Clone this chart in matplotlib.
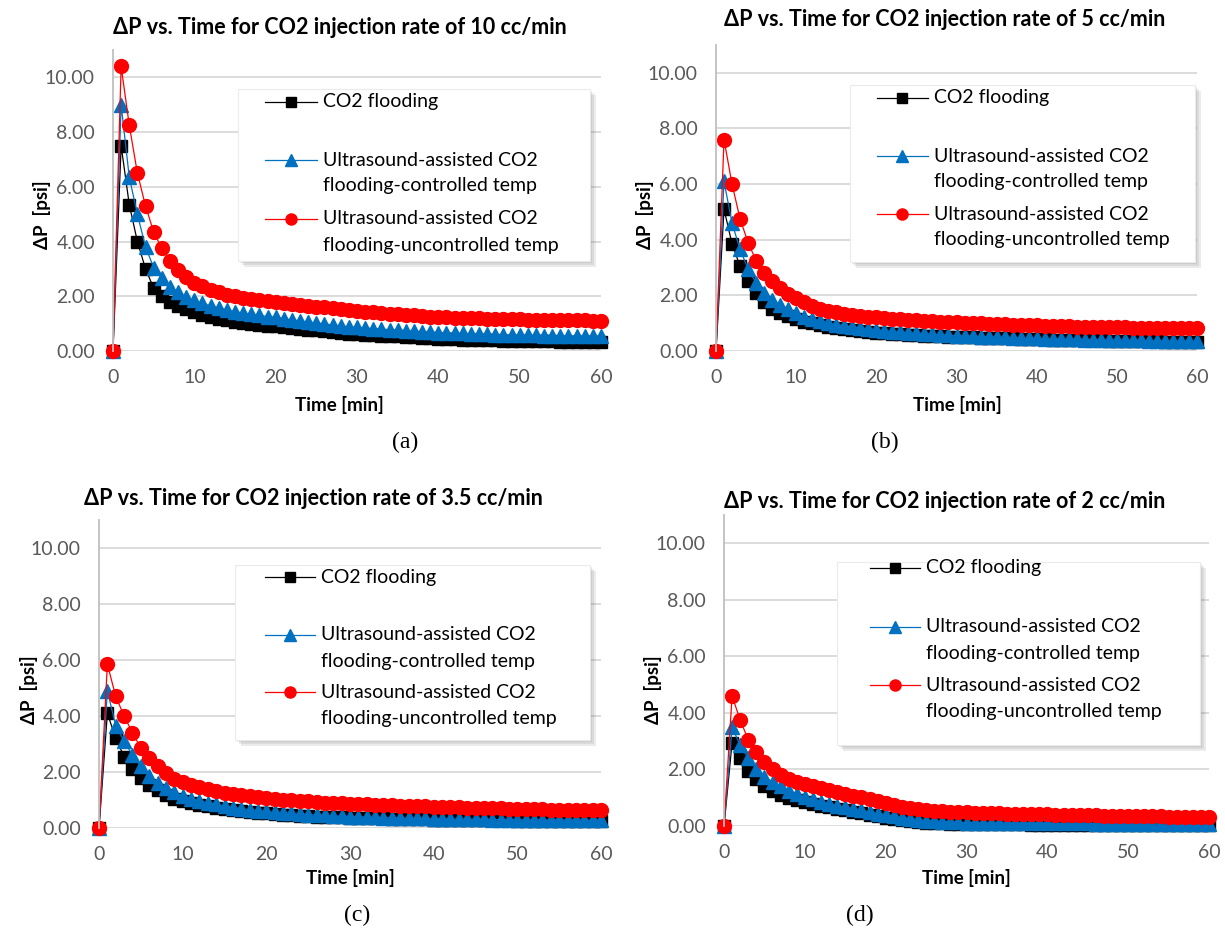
import matplotlib
matplotlib.use("Agg")
import matplotlib.pyplot as plt
from matplotlib.lines import Line2D
from matplotlib.patches import Rectangle

plt.rcParams['font.family'] = ['Lato', 'DejaVu Sans']

W, H = 1225, 930

time_min = list(range(61))

# panel (a) 10 cc/min
a_co2 = [0, 7.50, 5.35, 4.00, 3.00, 2.30, 2.00, 1.80, 1.65, 1.52, 1.42,
         1.33, 1.25, 1.18, 1.12, 1.07, 1.03, 0.99, 0.96, 0.93, 0.90,
         0.87, 0.84, 0.81, 0.78, 0.75, 0.72, 0.69, 0.66, 0.63, 0.61,
         0.59, 0.57, 0.56, 0.54, 0.53, 0.51, 0.50, 0.48, 0.47, 0.45,
         0.44, 0.43, 0.42, 0.41, 0.40, 0.40, 0.39, 0.38, 0.38, 0.37,
         0.36, 0.36, 0.35, 0.35, 0.34, 0.34, 0.33, 0.33, 0.32, 0.32]
a_ctrl = [0, 9.00, 6.35, 5.00, 3.80, 3.05, 2.65, 2.35, 2.15, 1.98, 1.85,
          1.74, 1.65, 1.57, 1.50, 1.44, 1.39, 1.34, 1.30, 1.26, 1.23,
          1.18, 1.14, 1.10, 1.06, 1.02, 0.99, 0.95, 0.92, 0.89, 0.86,
          0.84, 0.82, 0.80, 0.78, 0.76, 0.74, 0.72, 0.70, 0.69, 0.67,
          0.66, 0.65, 0.64, 0.63, 0.62, 0.61, 0.60, 0.59, 0.58, 0.58,
          0.57, 0.57, 0.56, 0.56, 0.56, 0.55, 0.55, 0.55, 0.54, 0.54]
a_unctrl = [0, 10.40, 8.25, 6.50, 5.30, 4.35, 3.75, 3.30, 2.95, 2.70, 2.50,
            2.36, 2.24, 2.14, 2.06, 2.00, 1.95, 1.90, 1.86, 1.82, 1.78,
            1.74, 1.71, 1.68, 1.65, 1.62, 1.59, 1.56, 1.53, 1.50, 1.47,
            1.44, 1.42, 1.39, 1.37, 1.35, 1.32, 1.30, 1.28, 1.26, 1.24,
            1.23, 1.22, 1.21, 1.20, 1.19, 1.18, 1.17, 1.17, 1.16, 1.16,
            1.15, 1.15, 1.14, 1.14, 1.13, 1.13, 1.12, 1.12, 1.11, 1.11]

# panel (b) 5 cc/min
b_co2 = [0, 5.10, 3.85, 3.05, 2.50, 2.10, 1.75, 1.52, 1.38, 1.25, 1.15,
         1.06, 0.99, 0.93, 0.88, 0.83, 0.79, 0.75, 0.72, 0.69, 0.66,
         0.64, 0.62, 0.60, 0.58, 0.57, 0.55, 0.54, 0.53, 0.52, 0.51,
         0.50, 0.49, 0.48, 0.47, 0.46, 0.45, 0.45, 0.44, 0.43, 0.42,
         0.42, 0.41, 0.40, 0.40, 0.39, 0.39, 0.38, 0.38, 0.37, 0.37,
         0.36, 0.36, 0.35, 0.35, 0.35, 0.34, 0.34, 0.34, 0.33, 0.33]
b_ctrl = [0, 6.10, 4.60, 3.65, 2.95, 2.45, 2.10, 1.85, 1.65, 1.50, 1.35,
          1.24, 1.15, 1.07, 1.00, 0.95, 0.90, 0.86, 0.82, 0.79, 0.76,
          0.73, 0.70, 0.68, 0.66, 0.64, 0.62, 0.60, 0.58, 0.57, 0.55,
          0.54, 0.53, 0.52, 0.51, 0.50, 0.49, 0.48, 0.47, 0.46, 0.45,
          0.44, 0.44, 0.43, 0.42, 0.42, 0.41, 0.41, 0.40, 0.40, 0.39,
          0.39, 0.38, 0.38, 0.37, 0.37, 0.37, 0.36, 0.36, 0.36, 0.35]
b_unctrl = [0, 7.60, 6.00, 4.75, 3.90, 3.25, 2.80, 2.50, 2.25, 2.05, 1.90,
            1.75, 1.62, 1.52, 1.45, 1.39, 1.34, 1.30, 1.27, 1.24, 1.21,
            1.18, 1.16, 1.14, 1.12, 1.10, 1.08, 1.07, 1.05, 1.04, 1.03,
            1.01, 1.00, 0.99, 0.98, 0.97, 0.96, 0.95, 0.94, 0.93, 0.92,
            0.91, 0.90, 0.89, 0.89, 0.88, 0.87, 0.87, 0.86, 0.86, 0.85,
            0.85, 0.84, 0.84, 0.83, 0.83, 0.82, 0.82, 0.82, 0.81, 0.81]

# panel (c) 3.5 cc/min
c_co2 = [0, 4.10, 3.20, 2.55, 2.10, 1.80, 1.55, 1.35, 1.18, 1.05, 0.97,
         0.90, 0.83, 0.77, 0.72, 0.68, 0.64, 0.61, 0.58, 0.55, 0.52,
         0.50, 0.48, 0.46, 0.44, 0.43, 0.41, 0.40, 0.39, 0.38, 0.37,
         0.36, 0.35, 0.34, 0.34, 0.33, 0.32, 0.32, 0.31, 0.31, 0.30,
         0.30, 0.29, 0.29, 0.28, 0.28, 0.28, 0.27, 0.27, 0.27, 0.26,
         0.26, 0.26, 0.25, 0.25, 0.25, 0.25, 0.24, 0.24, 0.24, 0.24]
c_ctrl = [0, 4.90, 3.65, 3.10, 2.60, 2.20, 1.85, 1.60, 1.42, 1.28, 1.15,
          1.05, 0.97, 0.90, 0.84, 0.78, 0.73, 0.69, 0.65, 0.62, 0.59,
          0.56, 0.54, 0.52, 0.50, 0.48, 0.46, 0.45, 0.43, 0.42, 0.41,
          0.40, 0.39, 0.38, 0.37, 0.36, 0.36, 0.35, 0.34, 0.34, 0.33,
          0.33, 0.32, 0.32, 0.31, 0.31, 0.31, 0.30, 0.30, 0.30, 0.29,
          0.29, 0.29, 0.28, 0.28, 0.28, 0.28, 0.27, 0.27, 0.27, 0.27]
c_unctrl = [0, 5.85, 4.70, 4.00, 3.40, 2.85, 2.50, 2.20, 1.95, 1.75, 1.65,
            1.55, 1.47, 1.39, 1.32, 1.26, 1.21, 1.17, 1.13, 1.10, 1.07,
            1.04, 1.01, 0.99, 0.97, 0.95, 0.93, 0.91, 0.89, 0.88, 0.86,
            0.85, 0.84, 0.83, 0.82, 0.81, 0.80, 0.79, 0.78, 0.77, 0.76,
            0.75, 0.74, 0.74, 0.73, 0.72, 0.71, 0.71, 0.70, 0.69, 0.69,
            0.68, 0.67, 0.67, 0.66, 0.66, 0.65, 0.64, 0.64, 0.63, 0.63]

# panel (d) 2 cc/min
d_co2 = [0, 2.95, 2.40, 1.95, 1.65, 1.40, 1.25, 1.10, 1.00, 0.92, 0.85,
         0.78, 0.72, 0.66, 0.60, 0.55, 0.50, 0.45, 0.40, 0.35, 0.30,
         0.26, 0.22, 0.18, 0.15, 0.12, 0.10, 0.09, 0.08, 0.07, 0.07,
         0.07, 0.06, 0.06, 0.06, 0.06, 0.06, 0.06, 0.05, 0.05, 0.05,
         0.05, 0.05, 0.05, 0.05, 0.05, 0.05, 0.05, 0.05, 0.05, 0.05,
         0.05, 0.05, 0.05, 0.05, 0.05, 0.05, 0.05, 0.05, 0.05, 0.05]
d_ctrl = [0, 3.50, 2.85, 2.40, 2.00, 1.75, 1.55, 1.40, 1.25, 1.12, 1.02,
          0.94, 0.86, 0.79, 0.72, 0.66, 0.60, 0.55, 0.49, 0.44, 0.39,
          0.34, 0.30, 0.26, 0.22, 0.19, 0.17, 0.15, 0.14, 0.13, 0.12,
          0.12, 0.11, 0.11, 0.11, 0.10, 0.10, 0.10, 0.10, 0.10, 0.09,
          0.09, 0.09, 0.09, 0.09, 0.09, 0.08, 0.08, 0.08, 0.08, 0.08,
          0.08, 0.08, 0.08, 0.08, 0.08, 0.08, 0.08, 0.08, 0.08, 0.08]
d_unctrl = [0, 4.60, 3.75, 3.05, 2.60, 2.25, 2.00, 1.82, 1.68, 1.57, 1.48,
            1.40, 1.33, 1.26, 1.20, 1.14, 1.07, 1.01, 0.94, 0.87, 0.80,
            0.74, 0.68, 0.63, 0.59, 0.56, 0.54, 0.52, 0.50, 0.49, 0.48,
            0.47, 0.46, 0.46, 0.45, 0.44, 0.44, 0.43, 0.42, 0.42, 0.41,
            0.40, 0.40, 0.39, 0.39, 0.38, 0.38, 0.37, 0.37, 0.36, 0.36,
            0.35, 0.35, 0.34, 0.34, 0.33, 0.33, 0.32, 0.32, 0.31, 0.31]

rates = ["10", "5", "3.5", "2"]
captions = ["(a)", "(b)", "(c)", "(d)"]
series_names = ["CO2 flooding",
                "Ultrasound-assisted CO2\nflooding-controlled temp",
                "Ultrasound-assisted CO2\nflooding-uncontrolled temp"]
colors = ["#000000", "#0070C0", "#FF0000"]
markers = ["s", "^", "o"]
msizes = [9, 10, 10]
leg_msizes = [7, 8, 8]

panel_data = [(a_co2, a_ctrl, a_unctrl), (b_co2, b_ctrl, b_unctrl),
              (c_co2, c_ctrl, c_unctrl), (d_co2, d_ctrl, d_unctrl)]

# layout in pixels: axes (left, right, top, bottom), title/xlabel/ylabel/caption spots, legend box
axes_px = [(113, 601, 50, 351), (716, 1197, 45, 351),
           (99, 601, 520, 828), (724, 1209, 515, 826)]
title_px = [(340, 28), (945, 20), (313, 498), (945, 501)]
xlab_px = [(339, 405), (957, 405), (350, 878), (966, 878)]
ylab_px = [(42, 215), (645, 215), (29, 690), (653, 690)]
cap_px = [(405, 442), (885, 442), (357, 915), (860, 915)]
# legend: box x0, x1, y0, y1, handle x0, x1, row y of each entry
leg_px = [(238, 590, 89, 261, 265, 317, (102, 160, 219)),
          (850, 1195, 85, 262, 877, 928, (98, 156, 214)),
          (235, 590, 565, 740, 265, 315, (577, 635, 692)),
          (837, 1200, 562, 745, 870, 920, (568, 627, 685))]
line_gap = 26


def fx(x):
    return x / W


def fy(y):
    return 1 - y / H


fig = plt.figure(figsize=(W / 100, H / 100), dpi=100)

for i in range(4):
    l, r, t, b = axes_px[i]
    ax = fig.add_axes([fx(l), fy(b), (r - l) / W, (b - t) / H])
    for vals, c, m, ms in zip(panel_data[i], colors, markers, msizes):
        ax.plot(time_min, vals, color=c, marker=m, markersize=ms, lw=0.9,
                clip_on=False)
    ax.set_xlim(0, 60)
    ax.set_ylim(0, 11)
    ax.set_xticks(range(0, 61, 10))
    ax.set_yticks(range(0, 11, 2))
    ax.set_yticklabels(["%.2f" % v for v in range(0, 11, 2)])
    ax.grid(axis="y", color="#D9D9D9", lw=1.3)
    ax.set_axisbelow(True)
    for s in ["top", "right", "bottom"]:
        ax.spines[s].set_visible(False)
    ax.spines["left"].set_color("#BFBFBF")
    ax.spines["left"].set_linewidth(1.3)
    ax.tick_params(length=0, labelsize=14, labelcolor="#595959")
    ax.tick_params(axis="y", pad=13)
    ax.tick_params(axis="x", pad=13)

    fig.text(fx(title_px[i][0]), fy(title_px[i][1]),
             "ΔP vs. Time for CO2 injection rate of %s cc/min" % rates[i],
             ha="center", va="center", fontsize=15.5, fontweight="bold")
    fig.text(fx(xlab_px[i][0]), fy(xlab_px[i][1]), "Time [min]",
             ha="center", va="center", fontsize=13.5, fontweight="bold")
    fig.text(fx(ylab_px[i][0]), fy(ylab_px[i][1]), "ΔP  [psi]",
             ha="center", va="center", fontsize=13.5, fontweight="bold",
             rotation=90)
    fig.text(fx(cap_px[i][0]), fy(cap_px[i][1]), captions[i],
             ha="center", va="center", fontsize=17, family="Liberation Serif")

    # legend drawn by hand, Excel style (marker on first line of each entry)
    x0, x1, y0, y1, hx0, hx1, rows = leg_px[i]
    for k in range(3):
        off = 2 + 2 * k
        fig.add_artist(Rectangle((fx(x0 + off), fy(y1 + off)),
                                 (x1 - x0) / W, (y1 - y0) / H,
                                 transform=fig.transFigure,
                                 facecolor="#606060", alpha=0.12,
                                 edgecolor="none", zorder=5))
    fig.add_artist(Rectangle((fx(x0), fy(y1)), (x1 - x0) / W, (y1 - y0) / H,
                             transform=fig.transFigure, facecolor="white",
                             edgecolor="#EBEBEB", lw=0.8, zorder=6))
    for name, c, m, ms, ry in zip(series_names, colors, markers, leg_msizes,
                                  rows):
        fig.add_artist(Line2D([fx(hx0), fx(hx1)], [fy(ry), fy(ry)],
                              transform=fig.transFigure, color=c, lw=0.9,
                              zorder=7))
        fig.add_artist(Line2D([fx((hx0 + hx1) / 2)], [fy(ry)],
                              transform=fig.transFigure, color=c, marker=m,
                              markersize=ms, zorder=7))
        for j, part in enumerate(name.split("\n")):
            fig.text(fx(hx1 + 6), fy(ry + j * line_gap), part, ha="left",
                     va="center", fontsize=14, zorder=8)

fig.savefig("out.png", dpi=100)
